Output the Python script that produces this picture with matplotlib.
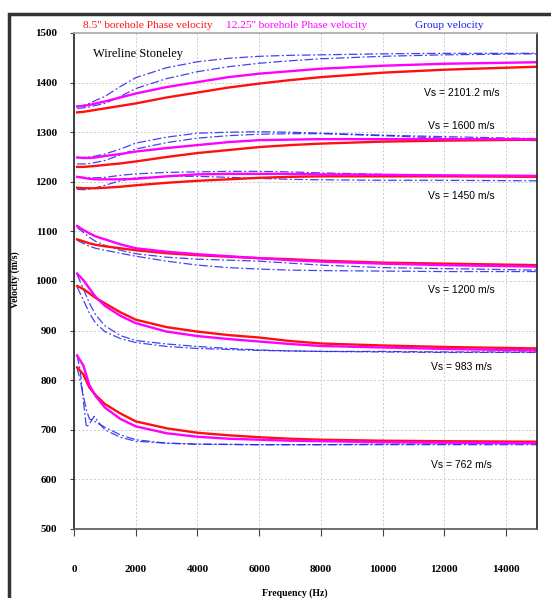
import matplotlib
matplotlib.use("Agg")
import matplotlib.pyplot as plt
from matplotlib.patches import Rectangle

# frequency grid (Hz) shared by most curves
freq = [100, 300, 500, 700, 1000, 1500, 2000, 3000, 4000, 5000, 6000, 7000, 8000, 10000, 12000, 15000]
# finer grid for the low-velocity group velocity curves
freq_low = [100, 200, 300, 400, 500, 650, 800, 1000, 1500, 2000, 3000, 4000, 6000, 8000, 10000, 15000]

vs_labels = ["Vs = 2101.2 m/s", "Vs = 1600 m/s", "Vs = 1450 m/s",
             "Vs = 1200 m/s", "Vs = 983 m/s", "Vs = 762 m/s"]
vs_label_y = [1379, 1312, 1171, 982, 827, 629]

# 8.5" borehole phase velocity
red_2101 = [1340, 1341, 1343, 1345, 1348, 1353, 1358, 1370, 1380, 1390, 1398, 1405, 1411, 1420, 1426, 1432]
red_1600 = [1230, 1230, 1231, 1232, 1234, 1237, 1241, 1250, 1258, 1264, 1270, 1274, 1277, 1281, 1283, 1285]
red_1450 = [1188, 1187, 1187, 1187, 1188, 1190, 1193, 1198, 1202, 1205, 1208, 1210, 1211, 1211, 1211, 1210]
red_1200 = [1084, 1080, 1076, 1073, 1070, 1066, 1062, 1056, 1052, 1049, 1046, 1044, 1041, 1037, 1035, 1032]
red_983 = [990, 984, 975, 966, 955, 937, 922, 907, 898, 891, 886, 879, 874, 870, 867, 864]
red_762 = [826, 812, 785, 770, 752, 733, 717, 703, 694, 689, 685, 682, 680, 678, 677, 676]

# 12.25" borehole phase velocity
mag_2101 = [1352, 1353, 1355, 1358, 1362, 1370, 1378, 1391, 1401, 1411, 1418, 1423, 1428, 1434, 1438, 1441]
mag_1600 = [1249, 1248, 1248, 1249, 1252, 1256, 1261, 1268, 1274, 1280, 1284, 1285, 1286, 1286, 1286, 1286]
mag_1450 = [1210, 1208, 1206, 1205, 1205, 1205, 1206, 1211, 1215, 1216, 1216, 1216, 1215, 1214, 1213, 1212]
mag_1200 = [1111, 1103, 1096, 1090, 1084, 1074, 1066, 1059, 1054, 1050, 1046, 1042, 1039, 1035, 1032, 1029]
mag_983 = [1015, 1002, 985, 968, 950, 930, 915, 898, 889, 883, 878, 873, 869, 866, 863, 860]
mag_762 = [850, 830, 790, 768, 745, 722, 707, 693, 686, 682, 680, 678, 677, 675, 674, 673]

# group velocity (two curves per Vs)
grp_a_2101 = [1352, 1354, 1358, 1364, 1372, 1392, 1410, 1430, 1442, 1449, 1453, 1455, 1456, 1458, 1459, 1459]
grp_b_2101 = [1348, 1349, 1351, 1354, 1358, 1372, 1388, 1408, 1422, 1432, 1439, 1444, 1448, 1453, 1456, 1458]
grp_a_1600 = [1249, 1249, 1250, 1252, 1256, 1266, 1278, 1290, 1298, 1300, 1301, 1300, 1298, 1294, 1291, 1287]
grp_b_1600 = [1236, 1236, 1237, 1239, 1243, 1254, 1266, 1279, 1288, 1293, 1296, 1297, 1297, 1293, 1288, 1283]
grp_a_1450 = [1210, 1209, 1208, 1208, 1209, 1213, 1216, 1219, 1220, 1221, 1221, 1220, 1218, 1215, 1213, 1211]
grp_b_1450 = [1185, 1184, 1185, 1188, 1193, 1202, 1208, 1211, 1211, 1209, 1207, 1205, 1204, 1203, 1203, 1202]
grp_a_1200 = [1108, 1098, 1088, 1080, 1072, 1062, 1055, 1048, 1044, 1042, 1040, 1036, 1032, 1027, 1025, 1022]
grp_b_1200 = [1082, 1076, 1070, 1066, 1062, 1056, 1050, 1040, 1032, 1027, 1024, 1022, 1021, 1020, 1019, 1019]
grp_a_983 = [1013, 985, 955, 932, 910, 890, 880, 873, 868, 864, 861, 859, 858, 857, 856, 856]
grp_b_983 = [988, 962, 935, 915, 898, 884, 876, 868, 864, 862, 860, 859, 858, 858, 857, 857]
grp_a_762 = [850, 820, 760, 705, 712, 727, 715, 700, 685, 677, 673, 671, 670, 670, 670, 670]
grp_b_762 = [825, 800, 770, 740, 722, 718, 712, 705, 690, 680, 673, 671, 670, 670, 671, 672]

serif = "Liberation Serif"
sans = "Liberation Sans"

fig = plt.figure(figsize=(5.51, 5.98), dpi=100)
fig.patch.set_facecolor("white")
# dark frame on top and left edges
fig.patches.append(Rectangle((9 / 551, -0.1), 1.2, 1.1 - 14 / 598, transform=fig.transFigure,
                             fill=False, edgecolor="#333333", linewidth=2.5))

ax = fig.add_axes([74 / 551, 1 - 529 / 598, 463 / 551, 496 / 598])

blue_ls = (0, (7, 2, 1.5, 2))
for g in [grp_a_2101, grp_b_2101, grp_a_1600, grp_b_1600, grp_a_1450, grp_b_1450,
          grp_a_1200, grp_b_1200, grp_a_983, grp_b_983]:
    ax.plot(freq, g, color="#2222ee", linestyle=blue_ls, linewidth=0.9, alpha=0.85)
for g in [grp_a_762, grp_b_762]:
    ax.plot(freq_low, g, color="#2222ee", linestyle=blue_ls, linewidth=0.9, alpha=0.85)

for r in [red_2101, red_1600, red_1450, red_1200, red_983, red_762]:
    ax.plot(freq, r, color="#ff1010", linewidth=1.7)
for m in [mag_2101, mag_1600, mag_1450, mag_1200, mag_983, mag_762]:
    ax.plot(freq, m, color="#ff00ff", linewidth=1.7)

ax.set_xlim(0, 15000)
ax.set_ylim(500, 1500)
ax.set_xticks(range(0, 15000, 2000))
ax.set_yticks(range(500, 1501, 100))
ax.grid(True, color="#cccccc", linestyle=(0, (2, 2)), linewidth=0.7)
ax.set_axisbelow(True)

for lab in ax.get_xticklabels() + ax.get_yticklabels():
    lab.set_fontfamily(serif)
    lab.set_fontweight("bold")
    lab.set_fontsize(8)
ax.tick_params(axis="x", direction="out", length=5, pad=21, color="#444444")
ax.tick_params(axis="y", direction="out", length=3, pad=9, color="#444444")

ax.spines["top"].set_color("#aaaaaa")
ax.spines["right"].set_color("#222222")
ax.spines["left"].set_color("#222222")
ax.spines["bottom"].set_color("#555555")
for s in ax.spines.values():
    s.set_linewidth(1.2)

ax.text(600, 1457, "Wireline Stoneley", fontfamily=serif, fontsize=9, va="center")
for t, yv in zip(vs_labels, vs_label_y):
    ax.text(12560, yv, t, fontfamily=sans, fontsize=7.5, ha="center", va="center")

fig.text(148 / 551, 1 - 26 / 598, "8.5'' borehole Phase velocity", color="#ff1010",
         fontfamily=serif, fontsize=8.2, ha="center", va="center")
fig.text(297 / 551, 1 - 26 / 598, "12.25'' borehole Phase velocity", color="#ff00ff",
         fontfamily=serif, fontsize=8.2, ha="center", va="center")
fig.text(449 / 551, 1 - 26 / 598, "Group velocity", color="#1a1aee",
         fontfamily=serif, fontsize=8.2, ha="center", va="center")

fig.text(295 / 551, 1 - 593 / 598, "Frequency (Hz)", fontfamily=serif, fontweight="bold",
         fontsize=7, ha="center", va="center")
fig.text(15 / 551, 1 - 280 / 598, "Velocity (m/s)", fontfamily=serif, fontweight="bold",
         fontsize=7, ha="center", va="center", rotation=90)

fig.savefig("out.png", dpi=100)
